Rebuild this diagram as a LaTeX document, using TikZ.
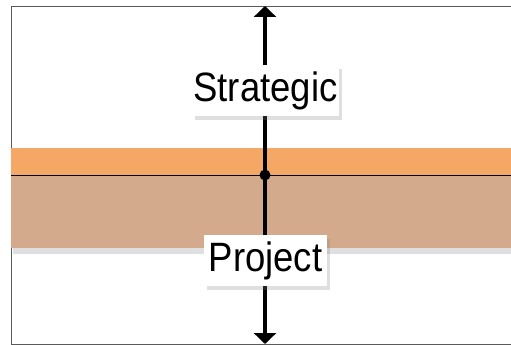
\documentclass[tikz,border=0pt]{standalone}
\usepackage{fontspec}
\setmainfont{Liberation Sans}[FakeStretch=0.89]
\usepackage{tikz}
\usetikzlibrary{arrows.meta,shadows}

\definecolor{bandorange}{RGB}{245,167,101}
\definecolor{bandtan}{RGB}{211,170,140}
\definecolor{framegray}{RGB}{90,90,90}

\begin{document}
\begin{tikzpicture}[
x=1pt,y=-1pt,
label/.style={fill=white,inner sep=0pt,minimum height=51pt,font=\fontsize{41}{46}\selectfont,
  drop shadow={opacity=0.25,shadow xshift=3pt,shadow yshift=-4pt}},
axis/.style={-{Triangle[length=11pt,width=22pt]},line width=3.6pt} ]

\useasboundingbox (0,0) rectangle (511,345);

\draw[framegray,line width=0.8pt] (511,6) -- (11,6) -- (11,344) -- (511,344);

\fill[bandtan,drop shadow={opacity=0.25,shadow xshift=2pt,shadow yshift=-6pt}] (11,148) rectangle (511,248);
\fill[bandorange] (11,148) rectangle (511,175);
\fill[bandtan] (11,175) rectangle (511,248);

\coordinate (left) at (11,175);
\coordinate (right) at (511,175);
\coordinate (centre) at (265,175);
\coordinate (top) at (265,6);
\coordinate (bottom) at (265,344);

\draw[line width=0.8pt] (left) -- (right);

\draw[axis] (centre) -- (top);
\draw[axis] (centre) -- (bottom);
\fill (centre) circle (5.5pt);

\node[label,minimum width=147pt](strategic) at (265.5,90.5) {Strategic};

\node[label,minimum width=123pt](project) at (265.5,260.5) {Project};

\end{tikzpicture}
\end{document}
